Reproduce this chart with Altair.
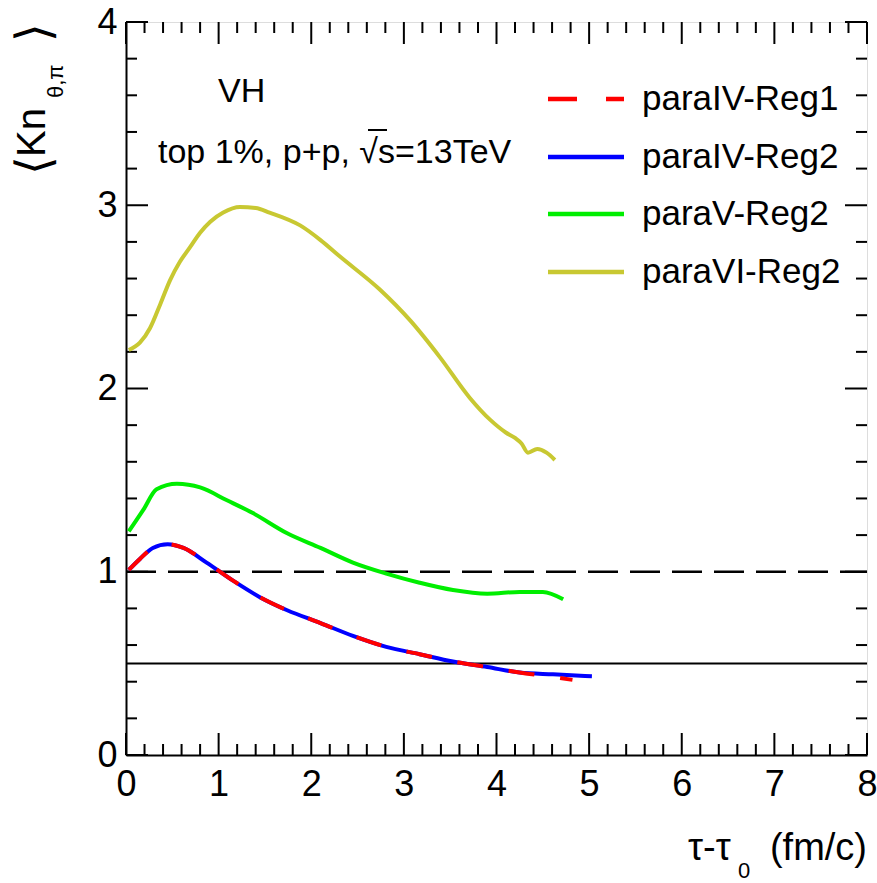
import altair as alt
import pandas as pd

# ---- data ----
x_iv_reg1 = [0.03, 0.15, 0.29, 0.45, 0.62, 0.87, 1.16, 1.45, 1.74, 2.10, 2.45, 2.81, 3.17, 3.53, 3.90, 4.25, 4.55, 4.82]
y_iv_reg1 = [1.01, 1.07, 1.13, 1.15, 1.13, 1.05, 0.95, 0.86, 0.79, 0.72, 0.65, 0.59, 0.55, 0.51, 0.48, 0.45, 0.43, 0.41]

x_iv_reg2 = [0.03, 0.15, 0.29, 0.45, 0.62, 0.87, 1.16, 1.45, 1.74, 2.10, 2.45, 2.81, 3.17, 3.53, 3.90, 4.25, 4.61, 5.03]
y_iv_reg2 = [1.01, 1.07, 1.13, 1.15, 1.13, 1.05, 0.95, 0.86, 0.79, 0.72, 0.65, 0.59, 0.55, 0.51, 0.48, 0.45, 0.44, 0.43]

x_v_reg2 = [0.03, 0.19, 0.33, 0.55, 0.80, 1.09, 1.37, 1.74, 2.10, 2.45, 2.81, 3.17, 3.53, 3.90, 4.25, 4.50, 4.72]
y_v_reg2 = [1.22, 1.34, 1.45, 1.48, 1.46, 1.39, 1.32, 1.21, 1.13, 1.05, 0.99, 0.94, 0.90, 0.88, 0.89, 0.89, 0.85]

x_vi_reg2 = [0.03, 0.15, 0.26, 0.37, 0.475, 0.58, 0.69, 0.80, 0.91, 1.05, 1.23, 1.40, 1.55, 1.88, 2.10, 2.31, 2.74,
             3.07, 3.39, 3.71, 3.93, 4.10, 4.20, 4.27, 4.34, 4.44, 4.54, 4.63]
y_vi_reg2 = [2.21, 2.25, 2.33, 2.46, 2.59, 2.69, 2.77, 2.85, 2.91, 2.96, 2.99, 2.985, 2.96, 2.89, 2.81, 2.72, 2.54,
             2.37, 2.17, 1.95, 1.83, 1.76, 1.73, 1.70, 1.65, 1.67, 1.65, 1.61]

ref_dashed = [1.0]
ref_solid = [0.5]

legend_labels = ["paraIV-Reg1", "paraIV-Reg2", "paraV-Reg2", "paraVI-Reg2"]

x_major = [0, 1, 2, 3, 4, 5, 6, 7, 8]
x_minor = [round(i * 0.2, 1) for i in range(41) if i % 5 != 0]
y_major = [0, 1, 2, 3, 4]
y_minor = [round(i * 0.2, 1) for i in range(21) if i % 5 != 0]

# ---- layout ----
W, H = 741, 733
FONT = "Liberation Sans"

xs = alt.Scale(domain=[0, 8], nice=False, zero=False)
ys = alt.Scale(domain=[0, 4], nice=False, zero=False)

AX = alt.Axis(values=x_major, format="d", ticks=False, grid=False,
              labelFontSize=36, labelFont=FONT, labelColor="black",
              labelPadding=12, domainColor="black", domainWidth=2,
              title=None, labelFlush=False)
AY = alt.Axis(values=y_major, format="d", ticks=False, grid=False,
              labelFontSize=36, labelFont=FONT, labelColor="black",
              labelPadding=9, domainColor="black", domainWidth=2,
              title=None, labelFlush=False)


def X(field):
    return alt.X(field, scale=xs, axis=AX, title=None)


def Y(field):
    return alt.Y(field, scale=ys, axis=AY, title=None)


def curve(xv, yv, color, dash=None, width=4):
    df = pd.DataFrame({"x": xv, "y": yv})
    kw = dict(color=color, strokeWidth=width, interpolate="monotone", clip=True)
    if dash:
        kw["strokeDash"] = dash
    return alt.Chart(df).mark_line(**kw).encode(x=X("x:Q"), y=Y("y:Q"))


axes = alt.Chart(pd.DataFrame({"x": [0], "y": [0]})).mark_point(opacity=0).encode(
    x=X("x:Q"), y=Y("y:Q"))

xt_major = pd.DataFrame({"v": x_major})
xt_minor = pd.DataFrame({"v": x_minor})
yt_major = pd.DataFrame({"v": y_major})
yt_minor = pd.DataFrame({"v": y_minor})


def xticks(df, y0, y1):
    return alt.Chart(df).mark_rule(color="black", strokeWidth=2).encode(
        x=X("v:Q"), y=alt.value(y0), y2=alt.value(y1))


def yticks(df, x0, x1):
    return alt.Chart(df).mark_rule(color="black", strokeWidth=2).encode(
        y=Y("v:Q"), x=alt.value(x0), x2=alt.value(x1))


ticks = [
    xticks(xt_major, H, H - 22), xticks(xt_minor, H, H - 11),
    xticks(xt_major, 0, 22), xticks(xt_minor, 0, 11),
    yticks(yt_major, 0, 22), yticks(yt_minor, 0, 11),
    yticks(yt_major, W, W - 22), yticks(yt_minor, W, W - 11),
]

dashed = alt.Chart(pd.DataFrame({"y": ref_dashed})).mark_rule(
    color="black", strokeWidth=2.5, strokeDash=[30, 12]).encode(
    y=Y("y:Q"), x=alt.value(0), x2=alt.value(W))
solid = alt.Chart(pd.DataFrame({"y": ref_solid})).mark_rule(
    color="black", strokeWidth=2).encode(
    y=Y("y:Q"), x=alt.value(0), x2=alt.value(W))

curves = [
    curve(x_vi_reg2, y_vi_reg2, "#c8c832"),
    curve(x_v_reg2, y_v_reg2, "#00ee00"),
    curve(x_iv_reg2, y_iv_reg2, "#0000ff"),
    curve(x_iv_reg1, y_iv_reg1, "#ff0000", dash=[26, 26]),
]


def txt(s, x, y, size=34, align="left", angle=0, baseline="alphabetic", font=FONT):
    kw = dict(text=s, fontSize=size, font=font, color="black", align=align, baseline=baseline)
    if angle:
        kw["angle"] = angle
    return alt.Chart(pd.DataFrame({"a": [0]})).mark_text(**kw).encode(
        x=alt.value(x), y=alt.value(y))


def lrule(x0, x1, y, color, width=4.5, dash=None):
    kw = dict(color=color, strokeWidth=width)
    if dash:
        kw["strokeDash"] = dash
    return alt.Chart(pd.DataFrame({"a": [0]})).mark_rule(**kw).encode(
        x=alt.value(x0), x2=alt.value(x1), y=alt.value(y))


legend_colors = ["#ff0000", "#0000ff", "#00ee00", "#c8c832"]
legend_y = [77, 135, 192, 250]
legend = []
for i, (lab, col) in enumerate(zip(legend_labels, legend_colors)):
    legend.append(lrule(422, 498, legend_y[i], col, dash=[29, 29] if i == 0 else None))
    legend.append(txt(lab, 516, legend_y[i] + 11, size=35))

annot = [
    txt("VH", 92, 80),
    txt("top 1%, p+p, \u221As=13TeV", 32, 141),
    lrule(242, 261, 108, "black", width=2),
    # y-axis title
    txt("\u27E8", -76, 153, size=48, angle=270, font="DejaVu Sans"),
    txt("Kn", -81, 135, size=40, angle=270),
    txt("\u03B8,\u03C0", -63, 76, size=22, angle=270),
    txt("\u27E9", -76, 20, size=48, angle=270, font="DejaVu Sans"),
    # x-axis title
    txt("\u03C4-\u03C4", 562, 838, size=38),
    txt("0", 612, 856, size=22),
    txt("(fm/c)", W, 838, size=38, align="right"),
]

chart = alt.layer(axes, *ticks, dashed, solid, *curves, *legend, *annot).properties(
    width=W, height=H,
    padding={"left": 126, "top": 22, "right": 10, "bottom": 128},
    autosize=alt.AutoSizeParams(type="none"),
).configure_view(stroke="black", strokeWidth=2).configure(background="white")

chart.save("out.html", embed_options={"renderer": "svg", "actions": False})
